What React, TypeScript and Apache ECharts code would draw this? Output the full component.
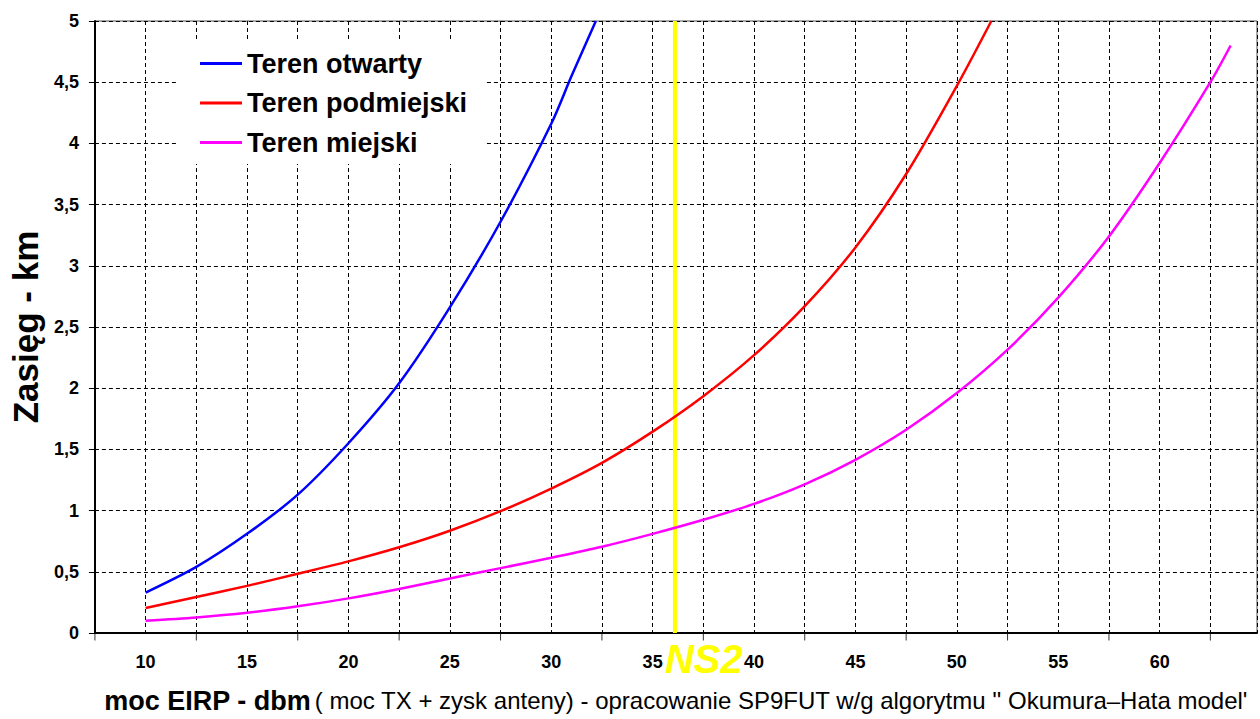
import React, { useEffect, useRef } from 'react';
import * as echarts from 'echarts';

const eirpOpen = [10, 12.5, 15, 17.5, 20, 22.5, 25, 27.5, 30, 31, 32.2];
const rangeOpen = [0.33, 0.54, 0.81, 1.13, 1.55, 2.04, 2.66, 3.36, 4.16, 4.55, 5.0];

const eirpSuburban = [10, 12.5, 15, 17.5, 20, 22.5, 25, 27.5, 30, 32.5, 35, 37.5, 40, 42.5, 45, 47.5, 50, 51.7];
const rangeSuburban = [0.205, 0.294, 0.385, 0.484, 0.585, 0.7, 0.835, 0.995, 1.18, 1.39, 1.645, 1.935, 2.27, 2.67, 3.15, 3.75, 4.47, 5.0];

const eirpUrban = [10, 12.5, 15, 17.5, 20, 22.5, 25, 27.5, 30, 32.5, 35, 37.5, 40, 42.5, 45, 47.5, 50, 52.5, 55, 57.5, 60, 62.5, 63.5];
const rangeUrban = [0.1, 0.127, 0.165, 0.218, 0.283, 0.36, 0.445, 0.53, 0.615, 0.705, 0.81, 0.925, 1.055, 1.215, 1.415, 1.66, 1.96, 2.315, 2.74, 3.24, 3.84, 4.5, 4.8];

const seriesNames = ['Teren otwarty', 'Teren podmiejski', 'Teren miejski'];
const seriesColors = ['#0000ff', '#ff0000', '#ff00ff'];

const ns2X = [36.1];
const ns2Label = ['NS2'];

const xTickValues = [7.5, 12.5, 17.5, 22.5, 27.5, 32.5, 37.5, 42.5, 47.5, 52.5, 57.5, 62.5];

const FONT = '"Liberation Sans", Arial, sans-serif';

function pairs(xs: number[], ys: number[]) {
  return xs.map((x, i) => [x, ys[i]]);
}

export default function App() {
  const ref = useRef<HTMLDivElement>(null);
  useEffect(() => {
    if (!ref.current) return;
    const chart = echarts.init(ref.current, null, { renderer: 'svg' });
    const dataSets = [
      pairs(eirpOpen, rangeOpen),
      pairs(eirpSuburban, rangeSuburban),
      pairs(eirpUrban, rangeUrban),
    ];
    const option: any = {
      animation: false,
      backgroundColor: '#ffffff',
      grid: {
        left: 92,
        top: 21,
        right: 3,
        bottom: 81,
        show: true,
        borderColor: '#555',
        borderWidth: 1,
      },
      legend: {
        data: seriesNames,
        orient: 'vertical',
        left: 178,
        top: 40,
        padding: [10, 19, 8, 22],
        itemGap: 12.5,
        itemWidth: 42,
        itemHeight: 3,
        icon: 'rect',
        backgroundColor: '#ffffff',
        textStyle: {
          fontFamily: FONT,
          fontWeight: 'bold',
          fontSize: 27,
          lineHeight: 27,
          color: '#000',
        },
      },
      xAxis: {
        type: 'value',
        min: 7.5,
        max: 64.8,
        interval: 2.5,
        name: '{b|moc EIRP - dbm} {r|( moc TX + zysk anteny) - opracowanie SP9FUT w/g algorytmu \'\' Okumura–Hata model\'}',
        nameLocation: 'middle',
        nameGap: 54,
        nameTextStyle: {
          rich: {
            b: { fontFamily: FONT, fontWeight: 'bold', fontSize: 27, color: '#000' },
            r: { fontFamily: FONT, fontSize: 24, color: '#000' },
          },
        },
        axisLine: { show: true, lineStyle: { color: '#000', width: 2 } },
        axisTick: { show: false },
        axisLabel: {
          margin: 20,
          fontFamily: FONT,
          fontWeight: 'bold',
          fontSize: 18,
          color: '#000',
          formatter: (v: number) => (Math.abs(v % 5) < 1e-6 ? String(v) : ''),
        },
        splitLine: {
          show: true,
          lineStyle: { color: '#000', type: [4, 3], width: 1 },
        },
      },
      yAxis: {
        type: 'value',
        min: 0,
        max: 5,
        interval: 0.5,
        name: 'Zasięg - km',
        nameLocation: 'middle',
        nameGap: 50,
        nameTextStyle: {
          fontFamily: FONT,
          fontWeight: 'bold',
          fontSize: 35,
          color: '#000',
        },
        axisLine: { show: true, lineStyle: { color: '#000', width: 2 } },
        axisTick: { show: true, length: 6, lineStyle: { color: '#000', width: 1 } },
        axisLabel: {
          margin: 16,
          fontFamily: FONT,
          fontWeight: 'bold',
          fontSize: 18,
          color: '#000',
          formatter: (v: number) => String(v).replace('.', ','),
        },
        splitLine: {
          show: true,
          lineStyle: { color: '#000', type: [4, 3], width: 1 },
        },
      },
      series: [
        {
          name: 'ticks',
          type: 'scatter',
          data: xTickValues.map((v) => [v, 0]),
          symbol: 'rect',
          symbolSize: [1, 7],
          symbolOffset: [0, 4],
          itemStyle: { color: '#000' },
          clip: false,
          silent: true,
          z: 5,
        },
        {
          name: 'NS2',
          type: 'line',
          data: [[ns2X[0], 0], [ns2X[0], 5]],
          showSymbol: false,
          symbol: 'none',
          lineStyle: { color: '#ffff00', width: 4 },
          z: 1,
          silent: true,
        },
        ...seriesNames.map((name, i) => ({
          name,
          type: 'line',
          data: dataSets[i],
          smooth: 0.3,
          showSymbol: false,
          symbol: 'none',
          color: seriesColors[i],
          lineStyle: { color: seriesColors[i], width: 2.5 },
          z: 3,
        })),
      ],
    };
    chart.setOption(option);
    const px = chart.convertToPixel({ xAxisIndex: 0 }, ns2X[0]) as number;
    const py = chart.convertToPixel({ yAxisIndex: 0 }, 0) as number;
    chart.setOption({
      graphic: [
        {
          type: 'text',
          x: px - 10,
          y: py + 6,
          z: 10,
          style: {
            text: ns2Label[0],
            fill: '#ffff00',
            fontFamily: FONT,
            fontWeight: 'bold',
            fontStyle: 'italic',
            fontSize: 40,
            textVerticalAlign: 'top',
          },
        },
      ],
    });
    return () => chart.dispose();
  }, []);
  return (
    <div
      ref={ref}
      style={{ position: 'fixed', left: 0, top: 0, width: 1260, height: 719, background: '#fff' }}
    />
  );
}
